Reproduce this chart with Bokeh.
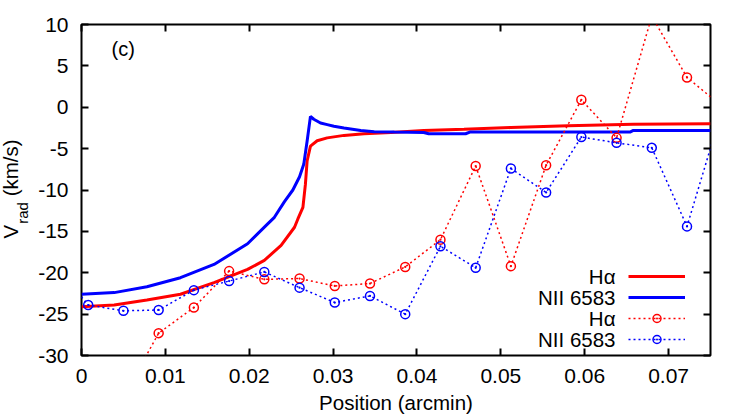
from bokeh.plotting import figure
from bokeh.models import Range1d, LinearAxis, FixedTicker, Label, Legend, LegendItem, Title
from bokeh.embed import file_html
from bokeh.resources import INLINE

NAN = float("nan")

# ---------------- data ----------------
x_ticks = [0, 0.01, 0.02, 0.03, 0.04, 0.05, 0.06, 0.07]
x_tick_labels = ["0", "0.01", "0.02", "0.03", "0.04", "0.05", "0.06", "0.07"]
y_ticks = [-30, -25, -20, -15, -10, -5, 0, 5, 10]
y_tick_labels = ["-30", "-25", "-20", "-15", "-10", "-5", "0", "5", "10"]

# model curves
ha_model_x = [0.0, 0.0039, 0.0078, 0.0118, 0.0158, 0.0198, 0.0218, 0.0238, 0.0254,
              0.0258, 0.0264, 0.0267, 0.0269, 0.0273, 0.0281, 0.0293, 0.0313, 0.0337,
              0.0369, 0.0408, 0.0456, 0.0512, 0.0580, 0.0658, 0.0750]
ha_model = [-24.1, -23.9, -23.3, -22.6, -21.2, -19.6, -18.5, -16.7, -14.5,
            -13.5, -12.1, -9.3, -6.5, -4.7, -4.05, -3.7, -3.4, -3.2,
            -3.05, -2.8, -2.65, -2.45, -2.25, -2.05, -2.0]

nii_model_x = [0.0, 0.0039, 0.0078, 0.0118, 0.0158, 0.0198, 0.0222, 0.0230, 0.0242,
               0.0252, 0.0260, 0.0265, 0.0269, 0.0273, 0.0277, 0.0285, 0.0293, 0.0301, 0.0313,
               0.0333, 0.0349, 0.0373, 0.0408, 0.0414, 0.0458, 0.0463, 0.0654, 0.0658, 0.0750]
nii_model = [-22.6, -22.4, -21.7, -20.6, -19.0, -16.5, -14.1, -13.3, -11.4,
             -10.0, -8.4, -6.9, -4.1, -1.1, -1.45, -1.9, -2.1, -2.3, -2.5,
             -2.8, -2.95, -3.0, -3.05, -3.2, -3.2, -3.0, -3.0, -2.8, -2.8]

# observed points
obs_x = [-0.0034, 0.0008, 0.0050, 0.0092, 0.0134, 0.0176, 0.0218, 0.0260, 0.0302, 0.0344,
         0.0386, 0.0428, 0.0470, 0.0512, 0.0554, 0.0596, 0.0638, 0.0680, 0.0722, 0.0764]
obs_ha = [NAN, NAN, -35.0, -27.3, -24.2, -19.8, -20.8, -20.7, -21.6, -21.3,
          -19.3, -16.0, -7.1, -19.2, -7.0, 0.9, -3.7, 11.0, 3.6, 0.1]
obs_nii = [-18.7, -23.9, -24.6, -24.5, -22.1, -21.0, -19.9, -21.8, -23.6, -22.8,
           -25.0, -16.8, -19.4, -7.4, -10.3, -3.6, -4.3, -4.9, -14.4, -0.2]

legend_names = ["H\u03b1", "NII 6583", "H\u03b1", "NII 6583"]

# ---------------- style ----------------
FONT = "Liberation Sans"
RED = "#ff0000"
BLUE = "#0000ff"
TICK_FS = "21px"
TEXT_FS = "20.5px"
NBSP = "\u00a0"

p = figure(width=745, height=417, output_backend="svg", toolbar_location=None,
           x_range=Range1d(0, 0.075), y_range=Range1d(-30, 10),
           min_border_left=81, min_border_right=35, min_border_top=24, min_border_bottom=62)
p.background_fill_color = "white"
p.border_fill_color = "white"
p.xgrid.grid_line_color = None
p.ygrid.grid_line_color = None
p.outline_line_color = "black"
p.outline_line_width = 2


def style_axis(ax, show_labels):
    ax.axis_line_color = None
    ax.major_tick_in = 7
    ax.major_tick_out = 0
    ax.major_tick_line_width = 2
    ax.major_tick_line_color = "black"
    ax.minor_tick_line_color = None
    if show_labels:
        ax.major_label_text_font = FONT
        ax.major_label_text_font_size = TICK_FS
        ax.major_label_text_color = "black"
    else:
        ax.major_label_text_font_size = "1px"
        ax.major_label_text_color = None
        ax.major_label_standoff = 0


p.xaxis.ticker = FixedTicker(ticks=x_ticks)
p.xaxis.major_label_overrides = dict(zip(x_ticks, x_tick_labels))
p.yaxis.ticker = FixedTicker(ticks=y_ticks)
p.yaxis.major_label_overrides = dict(zip(y_ticks, y_tick_labels))
style_axis(p.xaxis[0], True)
style_axis(p.yaxis[0], True)
p.xaxis.major_label_standoff = 13
p.yaxis.major_label_standoff = 13

p.xaxis.axis_label = "Position (arcmin)"
p.xaxis.axis_label_text_font = FONT
p.xaxis.axis_label_text_font_size = TEXT_FS
p.xaxis.axis_label_text_font_style = "normal"
p.xaxis.axis_label_text_color = "black"
p.xaxis.axis_label_standoff = 5

# y axis title  V_rad (km/s): subscript as the axis' own label, main text in an outer title
p.yaxis.axis_label = "rad" + NBSP * 11
p.yaxis.axis_label_text_font = FONT
p.yaxis.axis_label_text_font_size = "15px"
p.yaxis.axis_label_text_font_style = "normal"
p.yaxis.axis_label_text_color = "black"
p.yaxis.axis_label_standoff = 4

main_title = Title(text="V" + NBSP * 5 + "(km/s)", align="left", offset=117,
                   vertical_align="bottom", standoff=-20,
                   text_font=FONT, text_font_size=TEXT_FS, text_font_style="normal",
                   text_color="black")
p.add_layout(main_title, "left")

top_ax = LinearAxis(ticker=FixedTicker(ticks=x_ticks))
right_ax = LinearAxis(ticker=FixedTicker(ticks=y_ticks))
style_axis(top_ax, False)
style_axis(right_ax, False)
p.add_layout(top_ax, "above")
p.add_layout(right_ax, "right")

# ---------------- glyphs ----------------
r_ha = p.line(ha_model_x, ha_model, line_color=RED, line_width=3)
r_nii = p.line(nii_model_x, nii_model, line_color=BLUE, line_width=3)

r_ha_obs_l = p.line(obs_x, obs_ha, line_color=RED, line_width=1.5, line_dash="2 3")
r_ha_obs_m = p.scatter(obs_x, obs_ha, marker="circle_dot", size=9, line_color=RED,
                       line_width=1.5, fill_color=None)
r_nii_obs_l = p.line(obs_x, obs_nii, line_color=BLUE, line_width=1.5, line_dash="2 3")
r_nii_obs_m = p.scatter(obs_x, obs_nii, marker="circle_dot", size=9, line_color=BLUE,
                        line_width=1.5, fill_color=None)

# ---------------- legend (glyph samples) ----------------
items = [
    LegendItem(label=" ", renderers=[r_ha]),
    LegendItem(label=" ", renderers=[r_nii]),
    LegendItem(label=" ", renderers=[r_ha_obs_l, r_ha_obs_m]),
    LegendItem(label=" ", renderers=[r_nii_obs_l, r_nii_obs_m]),
]
ROW_H = 21
LEG_BOTTOM = 6
legend = Legend(items=items, location=(547, LEG_BOTTOM), glyph_width=57, glyph_height=20,
                label_height=20, label_width=1, label_standoff=0, spacing=ROW_H - 20,
                padding=0, margin=0, border_line_color=None, background_fill_alpha=0,
                label_text_font_size="8px", label_text_color=None)
p.add_layout(legend, "center")

# legend texts (right-aligned, left of samples)
for i, name in enumerate(legend_names):
    row_center = LEG_BOTTOM + (len(legend_names) - 1 - i) * ROW_H + 10
    p.add_layout(Label(x=534, y=row_center, x_units="screen", y_units="screen", text=name,
                       text_align="right", text_baseline="middle", text_font=FONT,
                       text_font_size=TEXT_FS, text_color="black"))

# panel tag
p.add_layout(Label(x=30, y=307, x_units="screen", y_units="screen", text="(c)",
                   text_align="left", text_baseline="middle", text_font=FONT,
                   text_font_size="20px", text_color="black"))

open("out.html", "w").write(file_html(p, INLINE))
